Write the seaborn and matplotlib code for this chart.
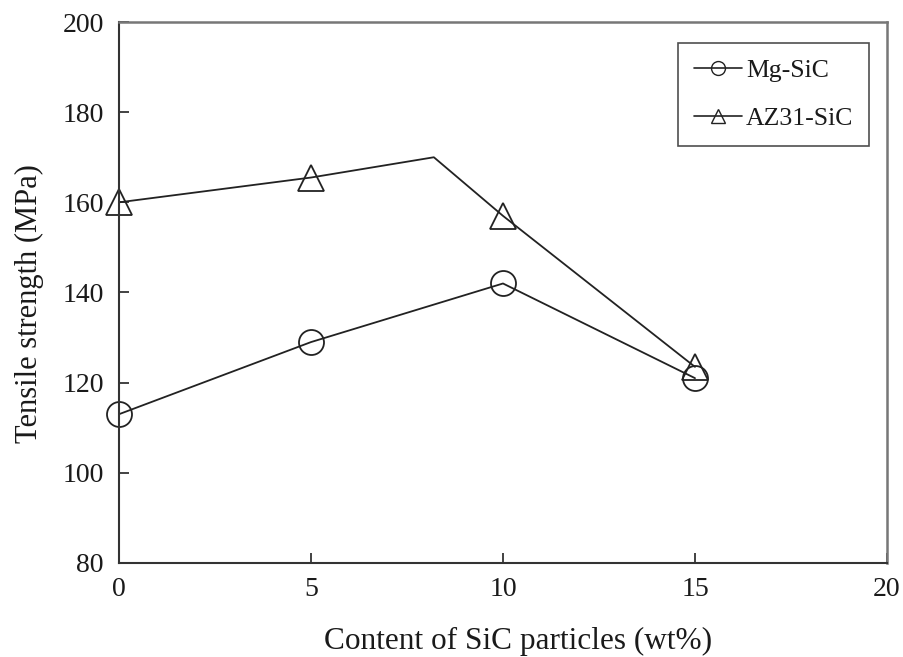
import numpy as np
import pandas as pd
import matplotlib
matplotlib.use("Agg")
import matplotlib.pyplot as plt
from matplotlib.lines import Line2D
import seaborn as sns

# values
sic_content = [0, 5, 10, 15]
mg_sic = [113, 129, 142, 121]

# AZ31-SiC line has an unmarked kink near 8.2 wt%
az31_x = [0, 5, 8.2, 10, 15]
az31_y = [160, 165.5, 170, 157, 123.5]
az31_marked = [0, 1, 3, 4]

x_ticks = [0, 5, 10, 15, 20]
y_ticks = [80, 100, 120, 140, 160, 180, 200]
series_names = ["Mg-SiC", "AZ31-SiC"]

sns.set_style("ticks")
plt.rcParams["font.family"] = ["Liberation Serif", "DejaVu Serif"]

LINE = "#222222"
TEXT = "#1a1a1a"

fig = plt.figure(figsize=(9.04, 6.57), dpi=100)
ax = fig.add_axes([0.1316, 0.1431, 0.8496, 0.8234])

mg_df = pd.DataFrame({"x": sic_content, "y": mg_sic})
az_df = pd.DataFrame({"x": az31_x, "y": az31_y})

sns.lineplot(data=mg_df, x="x", y="y", ax=ax, color=LINE, linewidth=1.3,
             marker="o", markersize=18, markerfacecolor="none",
             markeredgecolor=LINE, markeredgewidth=1.3, clip_on=False)
sns.lineplot(data=az_df, x="x", y="y", ax=ax, color=LINE, linewidth=1.3,
             marker="^", markersize=19, markerfacecolor="none",
             markeredgecolor=LINE, markeredgewidth=1.3,
             markevery=az31_marked, clip_on=False)

ax.set_xlim(0, 20)
ax.set_ylim(80, 200)
ax.set_xticks(x_ticks)
ax.set_yticks(y_ticks)
ax.tick_params(direction="in", length=7, width=1.2, colors=LINE,
               labelsize=20, labelcolor=TEXT)
ax.tick_params(axis="y", pad=11)
ax.tick_params(axis="x", pad=10)

for side in ["left", "bottom"]:
    ax.spines[side].set_linewidth(1.5)
    ax.spines[side].set_color("#333333")
for side in ["top", "right"]:
    ax.spines[side].set_visible(True)
    ax.spines[side].set_linewidth(1.8)
    ax.spines[side].set_color("#777777")

ax.set_xlabel("Content of SiC particles (wt%)", fontsize=22.5, color=TEXT)
ax.set_ylabel("Tensile strength (MPa)", fontsize=22, color=TEXT)
ax.xaxis.set_label_coords(0.52, -0.118)
ax.yaxis.set_label_coords(-0.098, 0.48)

handles = [
    Line2D([], [], color=LINE, linewidth=1.2, marker="o", markersize=10,
           markerfacecolor="none", markeredgecolor=LINE),
    Line2D([], [], color=LINE, linewidth=1.2, marker="^", markersize=10,
           markerfacecolor="none", markeredgecolor=LINE),
]
leg = ax.legend(handles, series_names, loc="upper right",
                bbox_to_anchor=(0.9766, 0.961), fontsize=18.5, frameon=True,
                fancybox=False, edgecolor="#222222", handlelength=1.9,
                handletextpad=0.15, labelspacing=1.0, borderpad=0.6,
                borderaxespad=0)
leg.get_frame().set_linewidth(1.2)
for t in leg.get_texts():
    t.set_color(TEXT)

fig.savefig("out.png", dpi=100)
